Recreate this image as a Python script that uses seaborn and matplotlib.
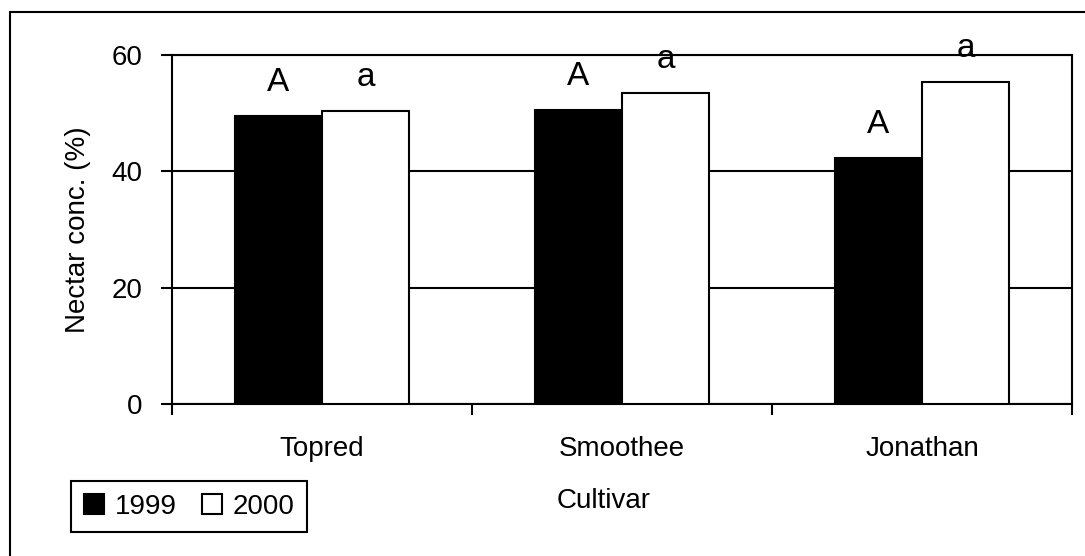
import matplotlib
matplotlib.use("Agg")
import matplotlib.pyplot as plt
from matplotlib.patches import Rectangle
import pandas as pd
import seaborn as sns

# valores
cultivars = ["Topred", "Smoothee", "Jonathan"]
years = ["1999", "2000"]
conc_1999 = [49.5, 50.5, 42.3]
conc_2000 = [50.3, 53.5, 55.3]
letters_1999 = ["A", "A", "A"]
letters_2000 = ["a", "a", "a"]

df = pd.DataFrame({
    "cultivar": cultivars * 2,
    "year": [years[0]] * 3 + [years[1]] * 3,
    "conc": conc_1999 + conc_2000,
})

sns.set_style("white")
plt.rcParams["font.family"] = ["Liberation Sans", "DejaVu Sans"]
plt.rcParams["text.color"] = "black"
plt.rcParams["axes.labelcolor"] = "black"
plt.rcParams["xtick.color"] = "black"
plt.rcParams["ytick.color"] = "black"

fig = plt.figure(figsize=(10.85, 5.56), dpi=100)
ax = fig.add_axes([172 / 1085, 1 - 404 / 556, 900 / 1085, 349 / 556])

sns.barplot(
    data=df, x="cultivar", y="conc", hue="year", order=cultivars,
    hue_order=years, palette=["black", "white"], edgecolor="black",
    linewidth=1.5, width=0.58, gap=0, ax=ax, legend=True, zorder=3,
)

# letras de significancia sobre las barras
for bars, letters in zip(ax.containers, [letters_1999, letters_2000]):
    for bar, txt in zip(bars, letters):
        ax.annotate(
            txt, (bar.get_x() + bar.get_width() / 2, bar.get_height()),
            xytext=(0, 18), textcoords="offset points",
            ha="center", va="baseline", fontsize=24, color="black", zorder=4,
        )

ax.set_ylim(0, 60)
ax.set_xlim(-0.5, 2.5)
ax.set_yticks([0, 20, 40, 60])
ax.yaxis.grid(True, color="black", linewidth=1.5, zorder=0)
ax.set_axisbelow(True)

ax.set_xticks([-0.5, 0.5, 1.5, 2.5])
ax.set_xticklabels([])
ax.set_xticks([0, 1, 2], minor=True)
ax.set_xticklabels(cultivars, minor=True)
ax.tick_params(axis="x", which="major", direction="out", length=8, width=1.5,
               bottom=True)
ax.tick_params(axis="x", which="minor", length=0, pad=23, labelsize=20)
ax.tick_params(axis="y", direction="out", length=8, width=1.5, left=True,
               pad=13, labelsize=20)

for s in ax.spines.values():
    s.set_color("black")
    s.set_linewidth(1.5)

ax.set_xlabel("Cultivar", fontsize=20)
ax.xaxis.set_label_coords(0.48, -0.24)
ax.set_ylabel("Nectar conc. (%)", fontsize=20)
ax.yaxis.set_label_coords(-0.09, 0.5)

handles, labels = ax.get_legend_handles_labels()
ax.get_legend().remove()
leg = fig.legend(
    handles, labels, loc="lower left",
    bbox_to_anchor=(71 / 1085, 1 - 532 / 556), bbox_transform=fig.transFigure,
    ncol=2, fontsize=20, frameon=True, fancybox=False, edgecolor="black",
    framealpha=1, handlelength=0.72, handleheight=0.72, handletextpad=0.4,
    columnspacing=0.9, borderpad=0.45, borderaxespad=0,
)
leg.get_frame().set_linewidth(1.5)

# borde exterior del area del grafico
fig.patches.append(Rectangle((10 / 1085, -0.2), 1.5, 0.2 + 1 - 12 / 556,
                             transform=fig.transFigure, fill=False,
                             edgecolor="black", linewidth=1.5))

fig.savefig("out.png", dpi=100)
